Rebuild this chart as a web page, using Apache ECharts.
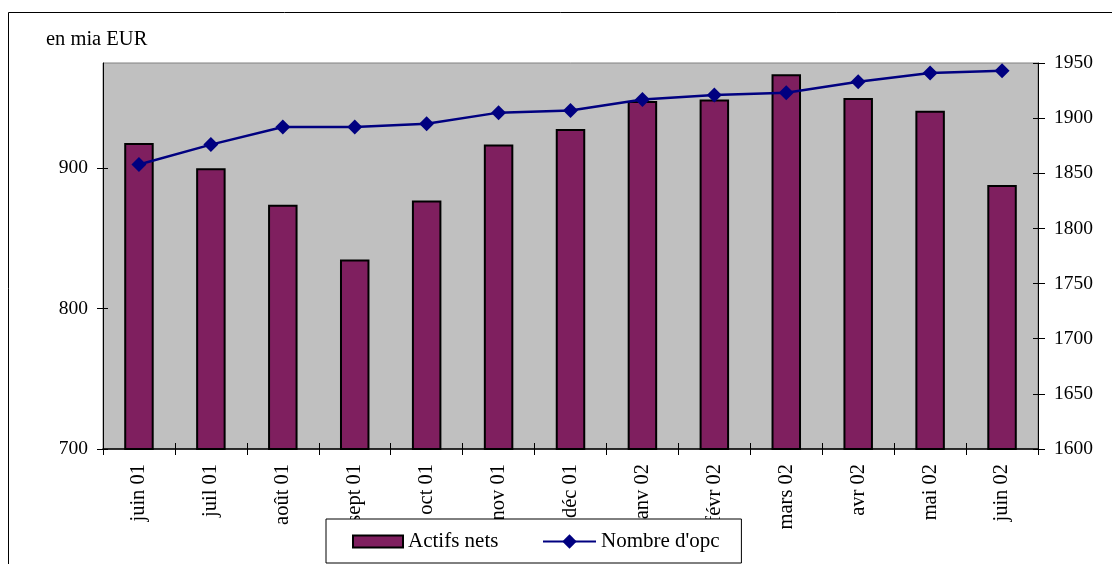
<!DOCTYPE html>
<html>
<head>
<meta charset="utf-8">
<script src="https://cdn.jsdelivr.net/npm/echarts@6/dist/echarts.min.js"></script>
<style>
html,body{margin:0;padding:0;background:#fff;}
#chart{width:1112px;height:564px;}
</style>
</head>
<body>
<div id="chart"></div>
<script>
var categories = ['juin 01','juil 01','août 01','sept 01','oct 01','nov 01','déc 01','janv 02','févr 02','mars 02','avr 02','mai 02','juin 02'];
var actifsNets = [918, 900, 874, 835, 877, 917, 928, 948, 949, 967, 950, 941, 888];
var nombreOpc = [1858, 1876, 1892, 1892, 1895, 1905, 1907, 1917, 1921, 1923, 1933, 1941, 1943];
var leftTicks = [700, 800, 900];
var rightTicks = [1600, 1650, 1700, 1750, 1800, 1850, 1900, 1950];

var FONT = 'Liberation Serif';
var chart = echarts.init(document.getElementById('chart'), null, {renderer: 'canvas'});
var option = {
  animation: false,
  backgroundColor: '#ffffff',
  textStyle: {fontFamily: FONT, color: '#000'},
  grid: {left: 103, right: 74, top: 63, bottom: 115, show: true, backgroundColor: '#c0c0c0', borderColor: '#808080', borderWidth: 1},
  graphic: [
    {type: 'rect', z: -10, shape: {x: 8.5, y: 12.5, width: 1200, height: 700}, style: {fill: 'none', stroke: '#000', lineWidth: 1}},
    {type: 'text', left: 46, top: 29, style: {text: 'en mia EUR', font: '20.5px "Liberation Serif"', fill: '#000'}}
  ],
  legend: [
    {
      left: 326, top: 519, z: 4,
      padding: [12, 243, 11, 26],
      itemGap: 10, itemWidth: 50, itemHeight: 12,
      backgroundColor: '#ffffff', borderColor: '#000', borderWidth: 1, borderRadius: 0,
      textStyle: {fontFamily: FONT, fontSize: 21, color: '#000'},
      data: [{name: 'Actifs nets', icon: 'rect'}]
    },
    {
      left: 542, top: 531, z: 5,
      padding: 0,
      itemWidth: 53, itemHeight: 18,
      textStyle: {fontFamily: FONT, fontSize: 21, color: '#000'},
      data: [{name: "Nombre d'opc"}]
    }
  ],
  xAxis: [
    {
      type: 'category', data: categories, boundaryGap: true, position: 'bottom',
      axisLine: {lineStyle: {color: '#000', width: 1.5}},
      axisTick: {show: true, length: 6, lineStyle: {color: '#000'}},
      axisLabel: {rotate: 90, margin: 15, fontFamily: FONT, fontSize: 20.5, color: '#000', interval: 0},
      splitLine: {show: false}
    },
    {
      type: 'category', data: categories, boundaryGap: true, position: 'bottom',
      axisLine: {show: false},
      axisTick: {show: true, inside: true, length: 6, lineStyle: {color: '#000'}},
      axisLabel: {show: false}, splitLine: {show: false}
    }
  ],
  yAxis: [
    {
      type: 'value', position: 'left', min: 700, max: 975, interval: 100,
      axisLine: {show: true, lineStyle: {color: '#000'}},
      axisTick: {show: true, length: 6, customValues: leftTicks, lineStyle: {color: '#000'}},
      axisLabel: {customValues: leftTicks, margin: 15, fontFamily: FONT, fontSize: 19.5, color: '#000', formatter: function (v) { return String(v); }},
      splitLine: {show: false}
    },
    {
      type: 'value', position: 'right', min: 1600, max: 1950, interval: 50,
      axisLine: {show: true, lineStyle: {color: '#000'}},
      axisTick: {show: true, length: 7, lineStyle: {color: '#000'}},
      axisLabel: {customValues: rightTicks, margin: 16, fontFamily: FONT, fontSize: 19.5, color: '#000', formatter: function (v) { return String(v); }},
      splitLine: {show: false}
    },
    {
      type: 'value', position: 'left', min: 700, max: 975, interval: 100,
      axisLine: {show: false},
      axisTick: {show: true, inside: true, length: 5, customValues: leftTicks, lineStyle: {color: '#000'}},
      axisLabel: {show: false}, splitLine: {show: false}
    },
    {
      type: 'value', position: 'right', min: 1600, max: 1950, interval: 50,
      axisLine: {show: false},
      axisTick: {show: true, inside: true, length: 5, lineStyle: {color: '#000'}},
      axisLabel: {show: false}, splitLine: {show: false}
    }
  ],
  series: [
    {
      name: 'Actifs nets', type: 'bar', data: actifsNets, xAxisIndex: 0, yAxisIndex: 0,
      barWidth: '41%',
      itemStyle: {color: '#7f1f5f', borderColor: '#000', borderWidth: 2}
    },
    {
      name: "Nombre d'opc", type: 'line', data: nombreOpc, xAxisIndex: 0, yAxisIndex: 1,
      symbol: 'diamond', symbolSize: 15, showSymbol: true,
      lineStyle: {color: '#000080', width: 2.5},
      itemStyle: {color: '#000080', borderWidth: 0}
    }
  ]
};
chart.setOption(option);
</script>
</body>
</html>
